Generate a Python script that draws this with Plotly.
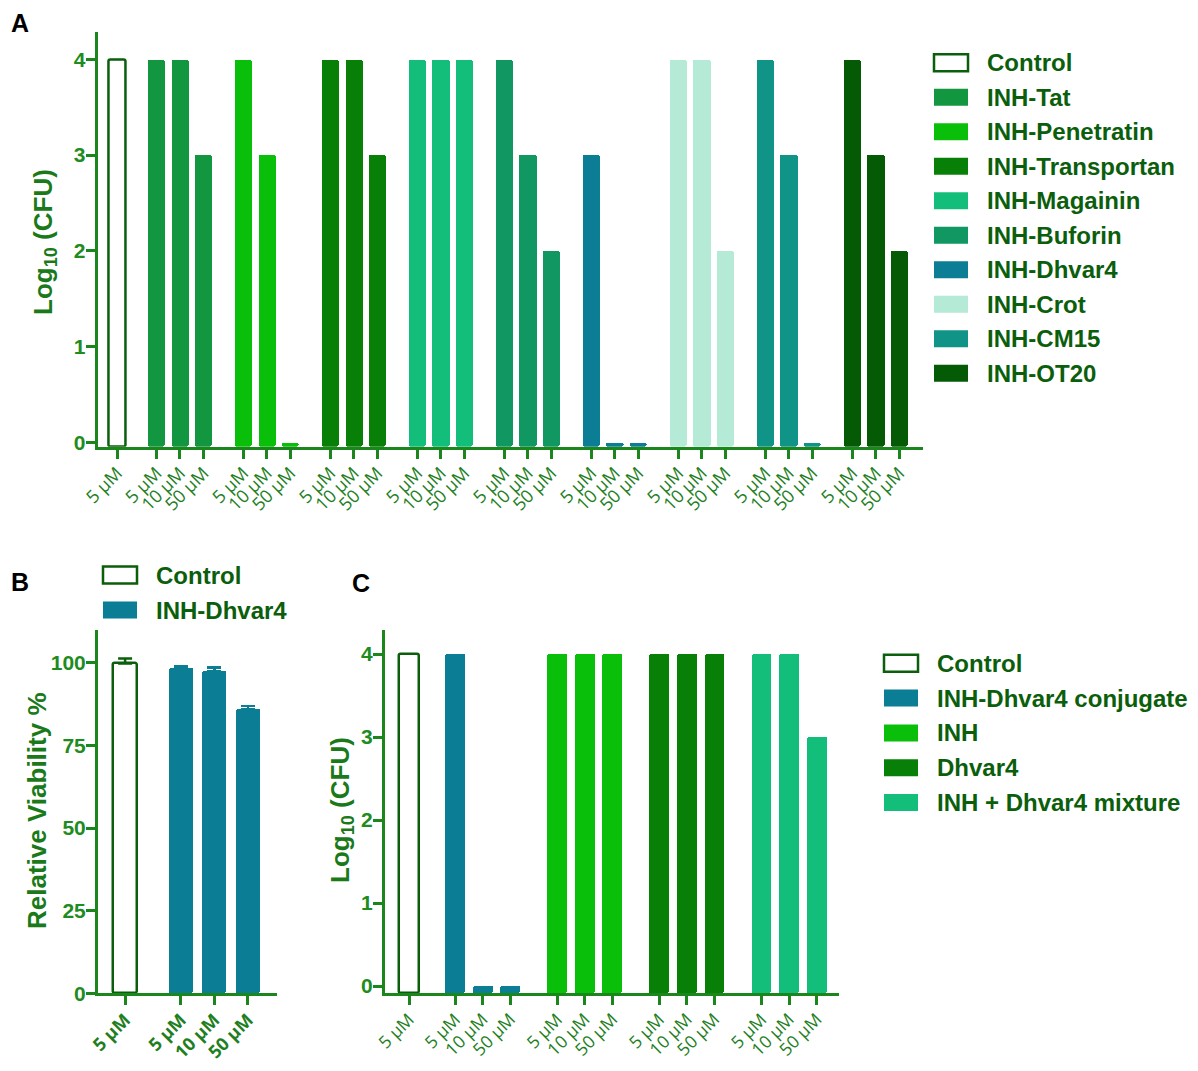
import plotly.graph_objects as go

# the page body keeps an 8 px margin, so the figure is drawn 16 px smaller
PAGE_W, PAGE_H = 1198, 1071
W, H = PAGE_W - 16, PAGE_H - 16

# ---------------- data ----------------
control_dose = ['5 µM']
doses = ['5 µM', '10 µM', '50 µM']

# panel A: Log10 (CFU) for each conjugate
a_names = ['Control', 'INH-Tat', 'INH-Penetratin', 'INH-Transportan', 'INH-Magainin',
           'INH-Buforin', 'INH-Dhvar4', 'INH-Crot', 'INH-CM15', 'INH-OT20']
a_colors = ['#ffffff', '#12963f', '#0abf0a', '#088008', '#12be7a',
            '#109762', '#0b7d95', '#b4ead6', '#0f9487', '#055a05']
a_values = [[4], [4, 4, 3], [4, 3, 0], [4, 4, 3], [4, 4, 4],
            [4, 3, 2], [3, 0, 0], [4, 4, 2], [4, 3, 0], [4, 3, 2]]

# panel B: relative viability %
b_names = ['Control', 'INH-Dhvar4']
b_colors = ['#ffffff', '#0b7d95']
b_values = [[99.8], [98.3, 97.4, 86.0]]
b_errors = [[1.5], [0.5, 1.2, 0.9]]

# panel C: Log10 (CFU), conjugate vs components
c_names = ['Control', 'INH-Dhvar4 conjugate', 'INH', 'Dhvar4', 'INH + Dhvar4 mixture']
c_colors = ['#ffffff', '#0b7d95', '#0abf0a', '#088008', '#12be7a']
c_values = [[4], [4, 0, 0], [4, 4, 4], [4, 4, 4], [4, 4, 3]]

# ---------------- style ----------------
AXIS = '#1b861b'
DARK = '#0b5e0b'
TICKFONT = dict(family='Arial, Liberation Sans', size=21, color='#1e8c1e', weight='bold')
TITLEFONT = dict(family='Arial, Liberation Sans', size=26, color='#1a7a1a')
LEGFONT = dict(family='Arial, Liberation Sans', size=24, color=DARK)


def px(x):
    """page pixel -> paper x"""
    return (x - 8) / W


def py(y):
    """page pixel -> paper y"""
    return 1 - (y - 8) / H


def positions(values, lead=1.67, period=3.7):
    """slot positions: control first, then the dose groups with a gap"""
    xs = []
    for k, vals in enumerate(values):
        start = 0 if k == 0 else lead + (k - 1) * period
        xs.append([start + j for j in range(len(vals))])
    return xs


def add_panel(fig, names, colors, values, axis, floor, width, errors=None):
    xs = positions(values)
    for i, (name, col, vals) in enumerate(zip(names, colors, values)):
        kw = {}
        if errors is not None:
            kw['error_y'] = dict(type='data', symmetric=False, array=errors[i],
                                 arrayminus=[0] * len(vals),
                                 color=DARK if i == 0 else col, thickness=2.5, width=7)
        fig.add_trace(go.Bar(
            x=xs[i], y=[v - floor for v in vals], base=floor, name=name,
            width=width, showlegend=False,
            marker=dict(color=col, cornerradius=2,
                        line=dict(color=DARK if i == 0 else col, width=2.5 if i == 0 else 0)),
            xaxis='x' + axis, yaxis='y' + axis, **kw))
    tickvals = [x for row in xs for x in row]
    ticktext = [control_dose[0] if k == 0 else doses[j]
                for k, row in enumerate(xs) for j in range(len(row))]
    return tickvals, ticktext


def add_legend(fig, names, colors, x0, y0, step):
    for i, (name, col) in enumerate(zip(names, colors)):
        yc = y0 + i * step
        fig.add_shape(type='rect', xref='paper', yref='paper',
                      x0=px(x0), x1=px(x0 + 34), y0=py(yc + 8.5), y1=py(yc - 8.5),
                      fillcolor=col,
                      line=dict(color=DARK if i == 0 else col, width=2.5 if i == 0 else 0))
        fig.add_annotation(x=px(x0 + 51), y=py(yc), xref='paper', yref='paper',
                           text='<b>%s</b>' % name, showarrow=False, xanchor='left',
                           yanchor='middle', font=LEGFONT)


fig = go.Figure()

a_ticks = add_panel(fig, a_names, a_colors, a_values, '', -0.046, 0.74)
b_ticks = add_panel(fig, b_names, b_colors, b_values, '2', 0, 0.72, errors=b_errors)
c_ticks = add_panel(fig, c_names, c_colors, c_values, '3', -0.088, 0.72)

add_legend(fig, a_names, a_colors, 934, 62.7, 34.5)
add_legend(fig, b_names, b_colors, 103, 575, 35)
add_legend(fig, c_names, c_colors, 884, 663.3, 34.8)

base_axis = dict(showline=True, linewidth=3, linecolor=AXIS, ticks='outside', ticklen=9,
                 tickwidth=3, tickcolor=AXIS, showgrid=False, zeroline=False,
                 fixedrange=True, automargin=False)
y_axis = dict(base_axis, tickfont=TICKFONT, ticklabelstandoff=-4)
x_axis = dict(base_axis, tickangle=-45, ticklabelstandoff=-3)

xa_font = dict(family='Open Sans, Arial', size=18, color='#1f7f1f')
xb_font = dict(family='Open Sans, Arial', size=18, color='#1f7f1f', weight='bold')
xc_font = dict(family='Open Sans, Arial', size=17.5, color='#1f7f1f')

fig.update_layout(
    width=W, height=H,
    margin=dict(l=0, r=0, t=0, b=0, autoexpand=False),
    paper_bgcolor='white', plot_bgcolor='white',
    bargap=0,
    xaxis=dict(x_axis, domain=[px(97.7), px(923)], range=[-0.83, 34.28],
               tickvals=a_ticks[0], ticktext=a_ticks[1], tickfont=xa_font, anchor='y'),
    yaxis=dict(y_axis, domain=[py(446.7), py(31.7)], range=[-0.046, 4.288],
               tickvals=[0, 1, 2, 3, 4], anchor='x'),
    xaxis2=dict(x_axis, domain=[px(98), px(277)], range=[-0.81, 4.54],
                tickvals=b_ticks[0], ticktext=b_ticks[1], tickfont=xb_font, anchor='y2'),
    yaxis2=dict(y_axis, domain=[py(993.3), py(630)], range=[0, 109.9],
                tickvals=[0, 25, 50, 75, 100], anchor='x2'),
    xaxis3=dict(x_axis, domain=[px(385), px(839)], range=[-0.87, 15.58],
                tickvals=c_ticks[0], ticktext=c_ticks[1], tickfont=xc_font, anchor='y3'),
    yaxis3=dict(y_axis, domain=[py(993.3), py(630)], range=[-0.088, 4.29],
                tickvals=[0, 1, 2, 3, 4], anchor='x3'),
)

# axis titles and panel letters
titles = [
    ('<b>Log<sub>10</sub> (CFU)</b>', 45, 242),
    ('<b>Relative Viability %</b>', 37, 811),
    ('<b>Log<sub>10</sub> (CFU)</b>', 341, 810),
]
for text, x, y in titles:
    fig.add_annotation(x=px(x), y=py(y), xref='paper', yref='paper', text=text,
                       textangle=-90, showarrow=False, font=TITLEFONT,
                       xanchor='center', yanchor='middle')

for letter, x, y in [('A', 20, 23), ('B', 20, 582), ('C', 361, 583)]:
    fig.add_annotation(x=px(x), y=py(y), xref='paper', yref='paper',
                       text='<b>%s</b>' % letter, showarrow=False,
                       font=dict(family='Arial, Liberation Sans', size=25, color='black'),
                       xanchor='center', yanchor='middle')

fig.write_html('out.html')
